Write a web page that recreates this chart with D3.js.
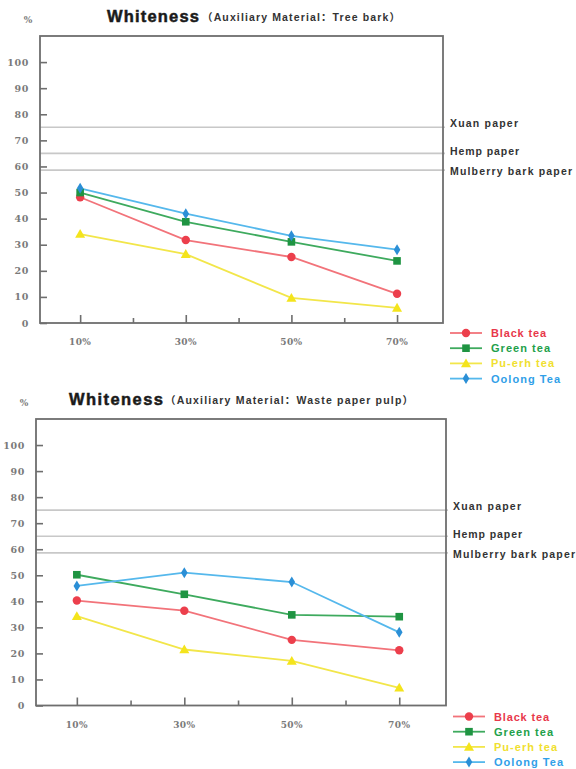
<!DOCTYPE html>
<html><head><meta charset="utf-8">
<script src="https://cdn.jsdelivr.net/npm/d3@7/dist/d3.min.js"></script>
<style>body{margin:0;background:#fff}svg{display:block}</style>
</head><body>
<svg id="c" width="576" height="769"></svg>
<script>
// ---- data ----
const categories = ["10%", "30%", "50%", "70%"];
const catValues = [10, 30, 50, 70];
const minorTicks = [20, 40, 60];
const yTicks = [0, 10, 20, 30, 40, 50, 60, 70, 80, 90, 100];
const seriesNames = ["Black tea", "Green tea", "Pu-erh tea", "Oolong Tea"];
const refNames = ["Xuan paper", "Hemp paper", "Mulberry bark paper"];
const refValues = [75, 65, 58.6];

const barkBlack = [48.2, 31.8, 25.3, 11.2];
const barkGreen = [50.0, 38.8, 31.1, 23.8];
const barkPuerh = [34.1, 26.4, 9.6, 5.8];
const barkOolong = [51.6, 41.9, 33.4, 28.1];

const pulpBlack = [40.3, 36.4, 25.2, 21.2];
const pulpGreen = [50.2, 42.7, 34.8, 34.1];
const pulpPuerh = [34.3, 21.5, 17.1, 6.8];
const pulpOolong = [45.9, 51.0, 47.4, 28.1];

const titles = ["Whiteness", "Whiteness"];
const subtitles = ["（Auxiliary Material：Tree bark）", "（Auxiliary Material：Waste paper pulp）"];

// ---- styles ----
const lineColors = ["#f2737a", "#3eaa5e", "#f2e64a", "#55b8ec"];
const markColors = ["#ec3f4c", "#1f9442", "#f4e41c", "#2b8fd6"];
const textColors = ["#e8384a", "#22a04a", "#f0e030", "#30a0e8"];
const markers = ["circle", "square", "triangle", "diamond"];

const svg = d3.select("#c");

function drawMarker(g, type, x, y, color) {
  if (type === "circle") {
    g.append("circle").attr("cx", x).attr("cy", y).attr("r", 4.2).attr("fill", color);
  } else if (type === "square") {
    g.append("rect").attr("x", x - 3.8).attr("y", y - 3.8).attr("width", 7.6).attr("height", 7.6).attr("fill", color);
  } else if (type === "triangle") {
    g.append("path").attr("d", `M${x},${y-5}L${x+5},${y+3.8}L${x-5},${y+3.8}Z`).attr("fill", color);
  } else {
    g.append("path").attr("d", `M${x},${y-5.5}L${x+3.3},${y}L${x},${y+5.5}L${x-3.3},${y}Z`).attr("fill", color);
  }
}

function drawChart(cfg) {
  const g = svg.append("g");
  const x = d3.scaleLinear().domain([2.4, 78.7]).range([cfg.left, cfg.right]);
  const y = d3.scaleLinear().domain([0, 110]).range([cfg.bottom, cfg.top]);

  // reference lines
  refValues.forEach((v, i) => {
    g.append("line").attr("x1", cfg.left).attr("x2", cfg.right + 2)
      .attr("y1", y(v)).attr("y2", y(v))
      .attr("stroke", "#c8c8c8").attr("stroke-width", 1.6);
    g.append("text").attr("x", cfg.right + 7).attr("y", y(v) + cfg.refDy[i])
      .attr("font-family", "Liberation Sans, Arial, sans-serif").attr("font-weight", "bold")
      .attr("font-size", 10.5).attr("fill", "#333")
      .attr("textLength", [68, 69, 122][i]).attr("lengthAdjust", "spacing")
      .text(refNames[i]);
  });

  // frame
  g.append("rect").attr("x", cfg.left).attr("y", cfg.top)
    .attr("width", cfg.right - cfg.left).attr("height", cfg.bottom - cfg.top)
    .attr("fill", "none").attr("stroke", "#6e6e6e").attr("stroke-width", 1.8);

  // y axis
  const yAxis = d3.axisRight(y).tickValues(yTicks).tickSize(7).tickFormat("");
  const ya = g.append("g").attr("transform", `translate(${cfg.left},0)`).call(yAxis);
  ya.select(".domain").remove();
  ya.selectAll("line").attr("stroke", "#6e6e6e").attr("stroke-width", 1.6);
  yTicks.forEach(t => {
    g.append("text").attr("x", cfg.left - 11).attr("y", y(t) + 3.5)
      .attr("text-anchor", "end").attr("font-family", "DejaVu Serif, serif")
      .attr("font-weight", "bold").attr("font-size", 9.5).attr("fill", "#7a7a7a")
      .attr("letter-spacing", 0.6).text(t);
  });
  g.append("text").attr("x", cfg.left - 12).attr("y", cfg.top - 13)
    .attr("text-anchor", "middle").attr("font-family", "DejaVu Serif, serif")
    .attr("font-weight", "bold").attr("font-size", 9).attr("fill", "#7a7a7a").text("%");

  // x axis ticks (inward)
  const xMajor = d3.axisTop(x).tickValues(catValues).tickSize(8).tickFormat("");
  const xa = g.append("g").attr("transform", `translate(0,${cfg.bottom})`).call(xMajor);
  xa.select(".domain").remove();
  xa.selectAll("line").attr("stroke", "#6e6e6e").attr("stroke-width", 1.6);
  const xMinor = d3.axisTop(x).tickValues(minorTicks).tickSize(5).tickFormat("");
  const xm = g.append("g").attr("transform", `translate(0,${cfg.bottom})`).call(xMinor);
  xm.select(".domain").remove();
  xm.selectAll("line").attr("stroke", "#6e6e6e").attr("stroke-width", 1.6);
  categories.forEach((c, i) => {
    g.append("text").attr("x", x(catValues[i])).attr("y", cfg.bottom + 22)
      .attr("text-anchor", "middle").attr("font-family", "DejaVu Serif, serif")
      .attr("font-weight", "bold").attr("font-size", 9).attr("fill", "#7a7a7a")
      .attr("letter-spacing", 0.4).text(c);
  });

  // series
  const line = d3.line().x((d, i) => x(catValues[i])).y(d => y(d));
  cfg.series.forEach((s, k) => {
    g.append("path").datum(s).attr("d", line).attr("fill", "none")
      .attr("stroke", lineColors[k]).attr("stroke-width", 1.8);
  });
  cfg.series.forEach((s, k) => {
    s.forEach((v, i) => drawMarker(g, markers[k], x(catValues[i]), y(v), markColors[k]));
  });

  // title
  g.append("text").attr("x", cfg.titleX).attr("y", cfg.titleY)
    .attr("font-family", "Liberation Sans, Arial, sans-serif").attr("font-weight", "bold")
    .attr("font-size", 16.5).attr("fill", "#1a1a1a").attr("stroke", "#1a1a1a").attr("stroke-width", 0.5)
    .attr("textLength", cfg.titleW).attr("lengthAdjust", "spacing").text(cfg.title);
  g.append("text").attr("x", cfg.subX).attr("y", cfg.titleY - 1)
    .attr("font-family", "Liberation Sans, Noto Sans CJK SC, sans-serif").attr("font-weight", "bold")
    .attr("font-size", 10.5).attr("fill", "#333")
    .attr("textLength", cfg.subW).attr("lengthAdjust", "spacing").text(cfg.subtitle);

  // legend
  seriesNames.forEach((n, k) => {
    const ly = cfg.legY + k * 15.2;
    g.append("line").attr("x1", cfg.legX).attr("x2", cfg.legX + 32)
      .attr("y1", ly).attr("y2", ly).attr("stroke", lineColors[k]).attr("stroke-width", 1.8);
    drawMarker(g, markers[k], cfg.legX + 16, ly, markColors[k]);
    g.append("text").attr("x", cfg.legX + 41).attr("y", ly + 4)
      .attr("font-family", "Liberation Sans, Arial, sans-serif").attr("font-weight", "bold")
      .attr("font-size", 11).attr("fill", textColors[k])
      .attr("textLength", [55, 59, 63, 69][k]).attr("lengthAdjust", "spacing").text(n);
  });
}

drawChart({
  left: 40, right: 443, top: 36, bottom: 323,
  series: [barkBlack, barkGreen, barkPuerh, barkOolong],
  refDy: [0, 2, 5],
  title: titles[0], subtitle: subtitles[0],
  titleX: 107, titleY: 22, titleW: 92, subX: 202, subW: 198,
  legX: 450, legY: 333
});

drawChart({
  left: 36, right: 446, top: 419, bottom: 705.5,
  series: [pulpBlack, pulpGreen, pulpPuerh, pulpOolong],
  refDy: [0, 1.5, 5],
  title: titles[1], subtitle: subtitles[1],
  titleX: 69, titleY: 405, titleW: 94, subX: 165, subW: 248,
  legX: 453, legY: 716.5
});
</script>
</body></html>
